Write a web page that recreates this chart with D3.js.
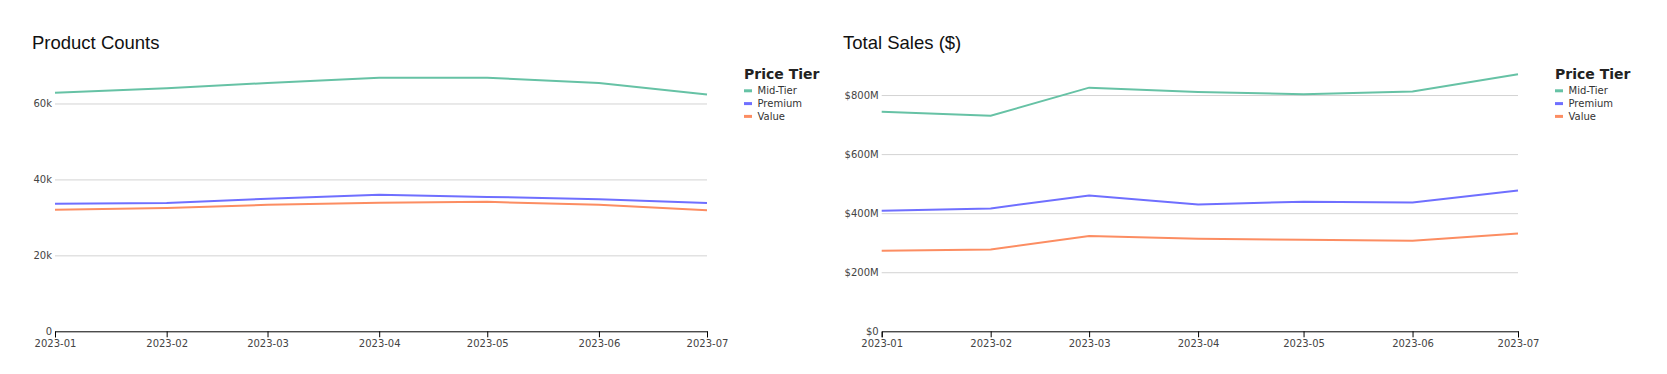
<!DOCTYPE html>
<html>
<head>
<meta charset="utf-8">
<script src="https://cdn.jsdelivr.net/npm/d3@7"></script>
<style>
  body { margin: 0; background: #fff; }
  .title { font-family: "Liberation Sans", Arial, sans-serif; font-size: 18.5px; fill: #111; }
  .axis text { fill: #444; font-family: "DejaVu Sans", sans-serif; font-size: 10px; }
  .grid line { stroke: #d3d3d3; }
  .legend-title { font-family: "DejaVu Sans", sans-serif; font-size: 14px; font-weight: bold; fill: #222; }
  .legend-item { font-family: "DejaVu Sans", sans-serif; font-size: 10px; fill: #333; }
</style>
</head>
<body>
<svg id="chart" width="1667" height="374"></svg>
<script>
// months on the x axis
var months = ["2023-01", "2023-02", "2023-03", "2023-04", "2023-05", "2023-06", "2023-07"];
var tiers = ["Mid-Tier", "Premium", "Value"];
var tierColors = ["#66c2a5", "#6f6fff", "#fc8d62"];

// product counts per tier
var countMid = [62850, 64000, 65400, 66800, 66800, 65400, 62350];
var countPremium = [33600, 33800, 34900, 35950, 35400, 34800, 33800];
var countValue = [32000, 32500, 33300, 33850, 34100, 33300, 31900];

// total sales per tier ($)
var salesMid = [743e6, 730e6, 825e6, 810e6, 803e6, 812e6, 870e6];
var salesPremium = [408e6, 416e6, 460e6, 429e6, 439e6, 436e6, 477e6];
var salesValue = [273e6, 277e6, 323e6, 313e6, 310e6, 307e6, 331e6];

var parseMonth = d3.utcParse("%Y-%m");
var dates = months.map(parseMonth);

var svg = d3.select("#chart");

var drawPanel = function(opts){
  var g = svg.append("g").attr("transform", "translate(" + opts.x0 + ",0)");
  var top = 65.5, bottom = 331.3, left = opts.left, right = 707;

  var x = d3.scaleUtc().domain(d3.extent(dates)).range([left, right]);
  var allVals = d3.merge(opts.series);
  var y = d3.scaleLinear().domain([0, d3.max(allVals)]).nice().range([bottom, top]);

  g.append("text").attr("class", "title")
      .attr("x", 32).attr("y", 49.3)
      .text(opts.title);

  // y axis with gridlines
  var yAxis = g.append("g").attr("class", "axis grid")
      .attr("transform", "translate(" + left + ",0)")
      .call(d3.axisLeft(y).ticks(opts.ticks).tickSize(-(right - left)).tickFormat(opts.fmt));
  yAxis.select(".domain").remove();
  yAxis.selectAll(".tick").filter(function(d){ return d === 0; }).select("line").remove();

  g.append("g").attr("class", "axis")
      .attr("transform", "translate(0," + bottom + ")")
      .call(d3.axisBottom(x).tickValues(dates).tickFormat(d3.utcFormat("%Y-%m")));

  var line = d3.line()
      .x(function(d, i){ return x(dates[i]); })
      .y(function(d){ return y(d); });

  g.selectAll("path.series")
      .data(opts.series)
    .enter().append("path")
      .attr("class", "series")
      .attr("fill", "none")
      .attr("stroke", function(d, i){ return tierColors[i]; })
      .attr("stroke-width", 2)
      .attr("d", line);

  // legend
  var lg = g.append("g").attr("transform", "translate(744,0)");
  lg.append("text").attr("class", "legend-title").attr("x", 0).attr("y", 79.3).text("Price Tier");
  var item = lg.selectAll("g.item")
      .data(tiers)
    .enter().append("g")
      .attr("class", "item")
      .attr("transform", function(d, i){ return "translate(0," + (90.8 + i * 12.8) + ")"; });
  item.append("line")
      .attr("x1", 0).attr("x2", 8)
      .attr("stroke", function(d, i){ return tierColors[i]; })
      .attr("stroke-width", 3);
  item.append("text").attr("class", "legend-item")
      .attr("x", 13.5).attr("dy", "0.35em")
      .text(function(d){ return d; });
};

drawPanel({x0: 0, left: 55, title: "Product Counts", ticks: 3,
  series: [countMid, countPremium, countValue],
  fmt: d3.format("~s")});

drawPanel({x0: 811, left: 70.7, title: "Total Sales ($)", ticks: 5,
  series: [salesMid, salesPremium, salesValue],
  fmt: function(d){ return d === 0 ? "$0" : d3.format("$~s")(d); }});
</script>
</body>
</html>
